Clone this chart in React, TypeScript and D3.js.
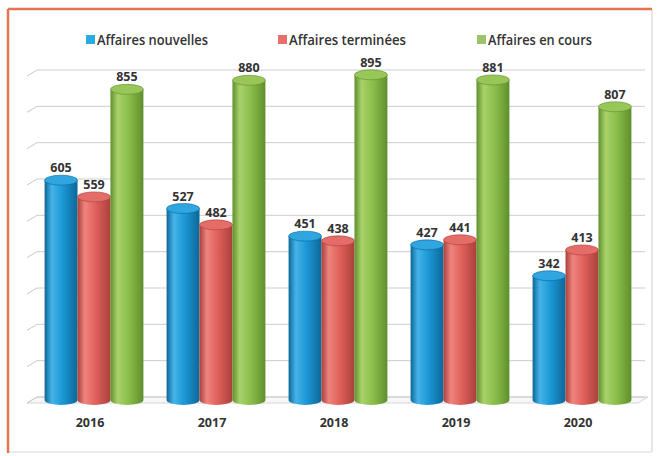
import React from "react";
import { scaleBand, scaleLinear, range } from "d3";

const width = 657;
const height = 456;

const years = ["2016", "2017", "2018", "2019", "2020"];
const seriesNames = ["Affaires nouvelles", "Affaires terminées", "Affaires en cours"];
const nouvelles = [605, 527, 451, 427, 342];
const terminees = [559, 482, 438, 441, 413];
const enCours = [855, 880, 895, 881, 807];
const gridValues = range(0, 901, 100);

const seriesValues = [nouvelles, terminees, enCours];

const colors = [
  { base: "#1b97d5", dark: "#0d6797", light: "#45b3e8", top: "#2fa6df", legend: "#29abe2" },
  { base: "#e0605b", dark: "#a9403b", light: "#ef847e", top: "#e56d67", legend: "#e8706b" },
  { base: "#8cbe4c", dark: "#5f8f2c", light: "#a8d26a", top: "#98c658", legend: "#9bc46a" },
];

const legendX = [86, 278, 477];
const legendTextWidth = [111, 117, 104];

const depthX = 10;
const depthY = 6;

const yScale = scaleLinear().domain([0, 900]).range([397, 70]);

const xScale = scaleBand()
  .domain(years)
  .range([33, 643])
  .paddingInner(0.19)
  .paddingOuter(0.095);

const inner = scaleBand()
  .domain(seriesNames)
  .range([0, xScale.bandwidth()])
  .padding(0);

const font = "'Open Sans', 'Liberation Sans', sans-serif";

export default function App() {
  const bw = inner.bandwidth();
  const rx = bw / 2;
  const ry = 5;
  const backLeft = 37;
  const backRight = 645;

  return (
    <svg
      width={width}
      height={height}
      style={{ position: "absolute", left: 0, top: 0, background: "#fff" }}
    >
      <defs>
        {colors.map((c, i) => (
          <linearGradient key={i} id={`cyl${i}`} x1="0" x2="1" y1="0" y2="0">
            <stop offset="0%" stopColor={c.dark} />
            <stop offset="22%" stopColor={c.light} />
            <stop offset="55%" stopColor={c.base} />
            <stop offset="100%" stopColor={c.dark} />
          </linearGradient>
        ))}
      </defs>

      {/* frame */}
      <line x1={652} y1={9} x2={652} y2={452} stroke="#dedede" strokeWidth={1.5} />
      <line x1={8} y1={452} x2={652} y2={452} stroke="#e4e4e4" strokeWidth={1.5} />
      <line x1={8} y1={9} x2={652} y2={9} stroke="#e8744f" strokeWidth={2.5} />
      <line x1={8} y1={9} x2={8} y2={453} stroke="#e8744f" strokeWidth={2.5} />

      {/* legend */}
      {seriesNames.map((name, i) => (
        <g key={name}>
          <rect x={legendX[i]} y={35} width={9} height={9} fill={colors[i].legend} />
          <text
            x={legendX[i] + 11}
            y={44.5}
            fontFamily={font}
            fontSize={14}
            fontWeight={600}
            fill="#333"
            textLength={legendTextWidth[i]}
            lengthAdjust="spacingAndGlyphs"
          >
            {name}
          </text>
        </g>
      ))}

      {/* floor */}
      <polygon
        points={`${backLeft - depthX},${yScale(0) + depthY} ${backLeft},${yScale(0)} ${backRight + 3},${yScale(0)} ${backRight - depthX + 3},${yScale(0) + depthY}`}
        fill="#f7f7f7"
        stroke="#d4d4d4"
        strokeWidth={1}
      />

      {/* gridlines */}
      {gridValues.map((v) => (
        <g key={v}>
          <line
            x1={backLeft}
            x2={backRight}
            y1={yScale(v)}
            y2={yScale(v)}
            stroke="#cdcdcd"
            strokeWidth={1}
          />
          <line
            x1={backLeft - depthX}
            x2={backLeft}
            y1={yScale(v) + depthY}
            y2={yScale(v)}
            stroke="#c8c8c8"
            strokeWidth={1}
          />
        </g>
      ))}

      {/* cylinders */}
      {years.map((year, yi) => (
        <g key={year} transform={`translate(${xScale(year)},0)`}>
          {seriesNames.map((name, si) => {
            const v = seriesValues[si][yi];
            const x0 = inner(name) as number;
            const cx = x0 + rx;
            const yTop = yScale(v) + 3;
            const yBot = yScale(0) + 3;
            return (
              <g key={name}>
                <path
                  d={`M${x0},${yTop} L${x0},${yBot} A${rx},${ry} 0 0 0 ${x0 + bw},${yBot} L${x0 + bw},${yTop} Z`}
                  fill={`url(#cyl${si})`}
                />
                <ellipse
                  cx={cx}
                  cy={yTop}
                  rx={rx}
                  ry={ry}
                  fill={colors[si].top}
                  stroke={colors[si].dark}
                  strokeWidth={0.6}
                />
                <text
                  x={cx}
                  y={yTop - ry - 3}
                  textAnchor="middle"
                  fontFamily={font}
                  fontSize={12.5}
                  fontWeight={700}
                  fill="#333"
                >
                  {v}
                </text>
              </g>
            );
          })}
          <text
            x={xScale.bandwidth() / 2 - 4}
            y={427}
            textAnchor="middle"
            fontFamily={font}
            fontSize={12.5}
            fontWeight={700}
            fill="#333"
          >
            {year}
          </text>
        </g>
      ))}
    </svg>
  );
}
